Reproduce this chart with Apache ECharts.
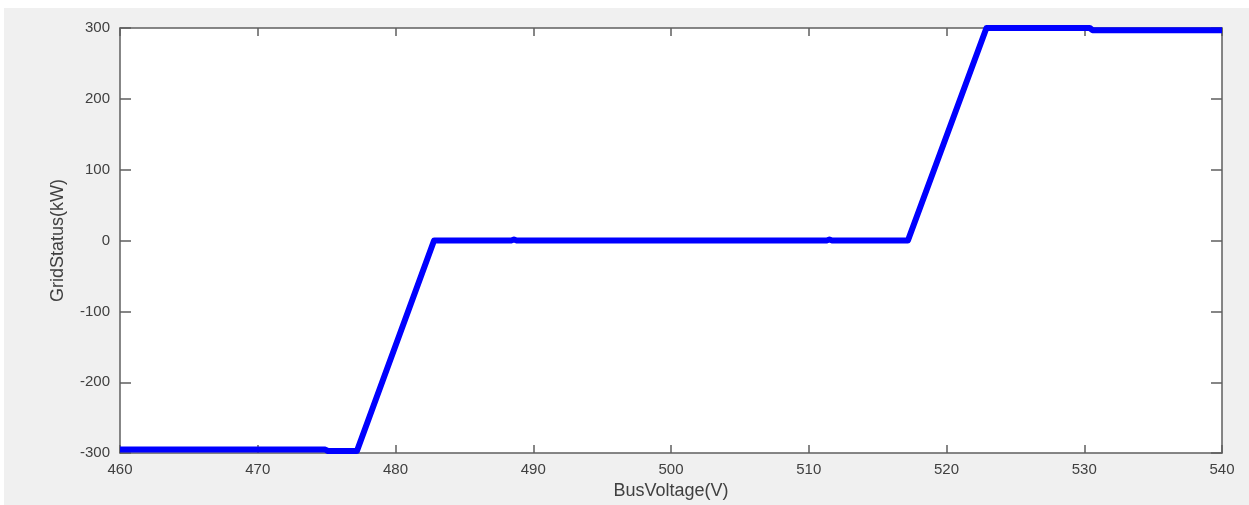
<!DOCTYPE html>
<html>
<head>
<meta charset="utf-8">
<script src="https://cdn.jsdelivr.net/npm/echarts@6/dist/echarts.min.js"></script>
<style>
  html, body { margin: 0; padding: 0; background: #ffffff; }
  #chart { position: absolute; left: 4px; top: 8px; width: 1245px; height: 497px; background: #f0f0f0; }
</style>
</head>
<body>
<div id="chart"></div>
<script>
// corner points of the grid status curve
const busVoltage = [460, 474.9, 475.1, 477.2, 482.8, 488.4, 488.6, 488.8, 511.3, 511.5, 511.7, 517.2, 522.9, 530.4, 530.6, 540]
const gridStatus = [-295, -295, -297, -297, 0, 0, 1.5, 0, 0, 1.5, 0, 0, 300, 300, 297, 297]
const xTicks = [460, 470, 480, 490, 500, 510, 520, 530, 540]
const yTicks = [-300, -200, -100, 0, 100, 200, 300]

const axisColor = '#5f5f5f'
const labelColor = '#404040'
const fontFamily = '"Liberation Sans", Arial, Helvetica, sans-serif'

const chart = echarts.init(document.getElementById('chart'))

const baseX = {
  type: 'value',
  min: xTicks[0],
  max: xTicks[xTicks.length - 1],
  interval: 10,
  splitLine: { show: false },
  axisLine: { show: true, onZero: false, lineStyle: { color: axisColor, width: 1.5 } },
  axisTick: { show: true, inside: true, length: 8, lineStyle: { color: axisColor, width: 1.5 } }
}
const baseY = {
  type: 'value',
  min: yTicks[0],
  max: yTicks[yTicks.length - 1],
  interval: 100,
  splitLine: { show: false },
  axisLine: { show: true, onZero: false, lineStyle: { color: axisColor, width: 1.5 } },
  axisTick: { show: true, inside: true, length: 11, lineStyle: { color: axisColor, width: 1.5 } }
}

chart.setOption({
  animation: false,
  grid: { left: 116, top: 20, width: 1102, height: 429, backgroundColor: '#ffffff', show: true, borderWidth: 0 },
  xAxis: [
    Object.assign({}, baseX, {
      position: 'bottom',
      name: 'BusVoltage(V)',
      nameLocation: 'middle',
      nameGap: 27,
      nameTextStyle: { color: labelColor, fontSize: 18, fontFamily: fontFamily },
      axisLabel: { color: labelColor, fontSize: 15, fontFamily: fontFamily, margin: 9 }
    }),
    Object.assign({}, baseX, { position: 'top', axisLabel: { show: false } })
  ],
  yAxis: [
    Object.assign({}, baseY, {
      position: 'left',
      name: 'GridStatus(kW)',
      nameLocation: 'middle',
      nameGap: 53,
      nameTextStyle: { color: labelColor, fontSize: 18, fontFamily: fontFamily },
      axisLabel: { color: labelColor, fontSize: 15, fontFamily: fontFamily, margin: 10 }
    }),
    Object.assign({}, baseY, { position: 'right', axisLabel: { show: false } })
  ],
  series: [
    {
      type: 'line',
      data: busVoltage.map((v, i) => [v, gridStatus[i]]),
      symbol: 'none',
      clip: false,
      lineStyle: { color: '#0000ff', width: 6, join: 'round' }
    }
  ]
})
</script>
</body>
</html>
